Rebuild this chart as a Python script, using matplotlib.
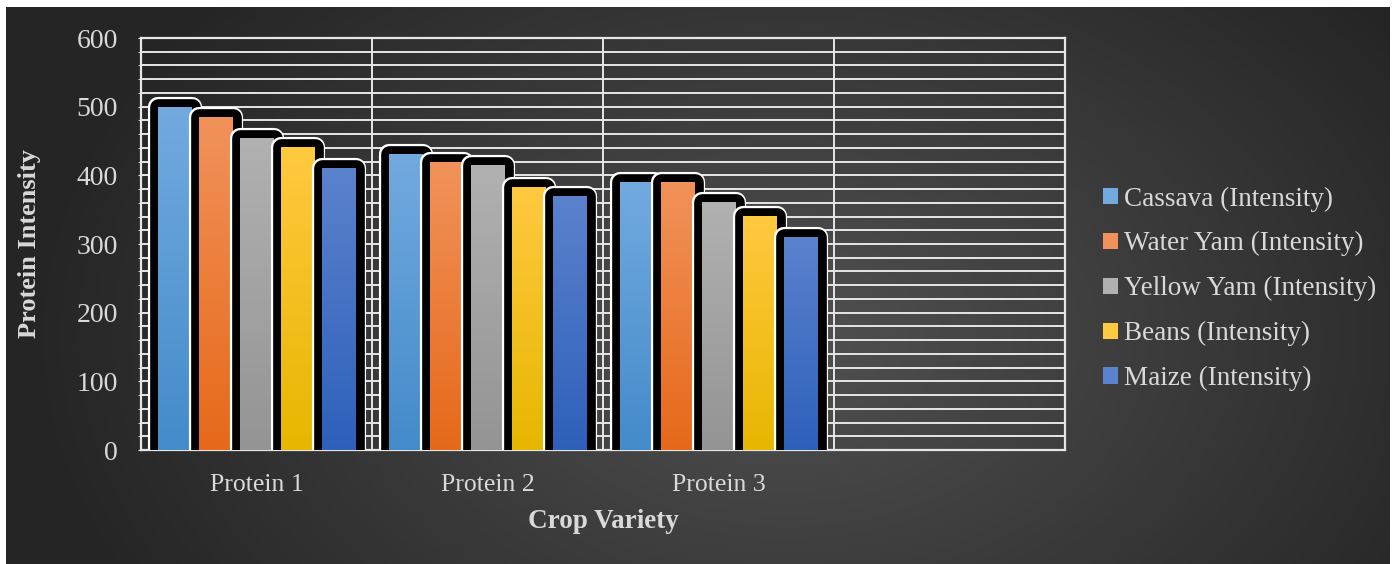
import numpy as np
import matplotlib
matplotlib.use("Agg")
from matplotlib import pyplot as plt
from matplotlib import patheffects as pe
from matplotlib.colors import to_rgb

proteins = ["Protein 1", "Protein 2", "Protein 3", ""]
crops = ["Cassava (Intensity)", "Water Yam (Intensity)", "Yellow Yam (Intensity)",
         "Beans (Intensity)", "Maize (Intensity)"]
cassava = [500, 431, 390]
water_yam = [485, 419, 390]
yellow_yam = [454, 415, 361]
beans = [441, 383, 341]
maize = [411, 370, 310]

top_colors = ["#72aadf", "#f1925a", "#b1b1b1", "#ffc940", "#5b82cd"]
bottom_colors = ["#438bca", "#e6691a", "#949494", "#e6b700", "#2e60ba"]

text_color = "#d9d9d9"
plt.rcParams["font.family"] = ["Liberation Serif", "DejaVu Serif"]

W, H = 1395, 564
fig = plt.figure(figsize=(W / 100, H / 100), dpi=100, facecolor="white")

# dark radial background
bg = fig.add_axes([6 / W, 0, (1390 - 6) / W, (H - 7) / H])
bg.set_axis_off()
yy, xx = np.mgrid[0:557, 0:1384]
d = np.sqrt(((xx - 780) / 760.0) ** 2 + ((yy - 330) / 520.0) ** 2)
d = np.clip(d, 0, 1)
light, dark = np.array(to_rgb("#515151")), np.array(to_rgb("#252525"))
img = light[None, None, :] * (1 - d[..., None]) + dark[None, None, :] * d[..., None]
bg.imshow(img, aspect="auto", interpolation="bilinear")

left, right, top, bottom = 141, 1065, 38, 450
ax = fig.add_axes([left / W, (H - bottom) / H, (right - left) / W, (bottom - top) / H])
ax.patch.set_alpha(0)

series = [cassava, water_yam, yellow_yam, beans, maize]
n = len(series)
pitch = 41 / 231
fill_w = 34 / 231
x = np.arange(len(cassava))

grad = np.linspace(1, 0, 256)[:, None]
for i, vals in enumerate(series):
    pos = x + (i - (n - 1) / 2) * pitch
    z = 3 + i * 0.1
    bars = ax.bar(pos, vals, width=fill_w, color=bottom_colors[i], label=crops[i],
                  zorder=z, linewidth=0)
    c_top, c_bot = np.array(to_rgb(top_colors[i])), np.array(to_rgb(bottom_colors[i]))
    gimg = c_top[None, None, :] * grad[..., None] + c_bot[None, None, :] * (1 - grad[..., None])
    for b in bars:
        b.set_path_effects([
            pe.Stroke(linewidth=14.5, foreground="white", joinstyle="round"),
            pe.Stroke(linewidth=12, foreground="black", joinstyle="round"),
            pe.Normal(),
        ])
        bx, by = b.get_x(), b.get_y()
        im = ax.imshow(gimg, extent=[bx, bx + b.get_width(), by, by + b.get_height()],
                       aspect="auto", zorder=z + 0.05, interpolation="bilinear")
        im.set_clip_path(b)

ax.set_xlim(-0.5, 3.5)
ax.set_ylim(0, 600)
ax.set_yticks(np.arange(0, 601, 100))
ax.set_yticks(np.arange(0, 601, 20), minor=True)
ax.set_xticks(range(len(proteins)))
ax.set_xticklabels(proteins)
ax.set_xticks([0.5, 1.5, 2.5], minor=True)

ax.grid(True, which="both", axis="y", color="#e6e6e6", linewidth=1.4, zorder=1)
ax.grid(True, which="minor", axis="x", color="#e6e6e6", linewidth=1.4, zorder=1)
ax.set_axisbelow(True)
for s in ax.spines.values():
    s.set_color("#e6e6e6")
    s.set_linewidth(1.6)

ax.tick_params(axis="y", which="both", direction="inout", length=5, color="#e6e6e6",
               labelsize=20, labelcolor=text_color, pad=14)
ax.tick_params(axis="x", which="major", length=0, labelsize=18.5, labelcolor=text_color, pad=17)
ax.tick_params(axis="x", which="minor", length=0)

ax.set_ylabel("Protein Intensity", fontsize=19, fontweight="bold", color=text_color, va="center")
ax.yaxis.set_label_coords((30 - left) / (right - left), 0.5)
ax.set_xlabel("Crop Variety", fontsize=19.5, fontweight="bold", color=text_color, va="center")
ax.xaxis.set_label_coords(0.5, (bottom - 521) / (bottom - top))

handles, labels = ax.get_legend_handles_labels()
leg = fig.legend(handles, labels, loc="upper left", bbox_to_anchor=(1098 / W, (H - 181) / H),
                 frameon=False, fontsize=19.5, labelcolor=text_color, handlelength=0.55,
                 handleheight=0.55, handletextpad=0.2, labelspacing=0.73, borderaxespad=0,
                 borderpad=0.2)
for h, c in zip(leg.legend_handles, top_colors):
    h.set_facecolor(c)
    h.set_path_effects([])

fig.savefig("out.png", dpi=100, facecolor="white")
